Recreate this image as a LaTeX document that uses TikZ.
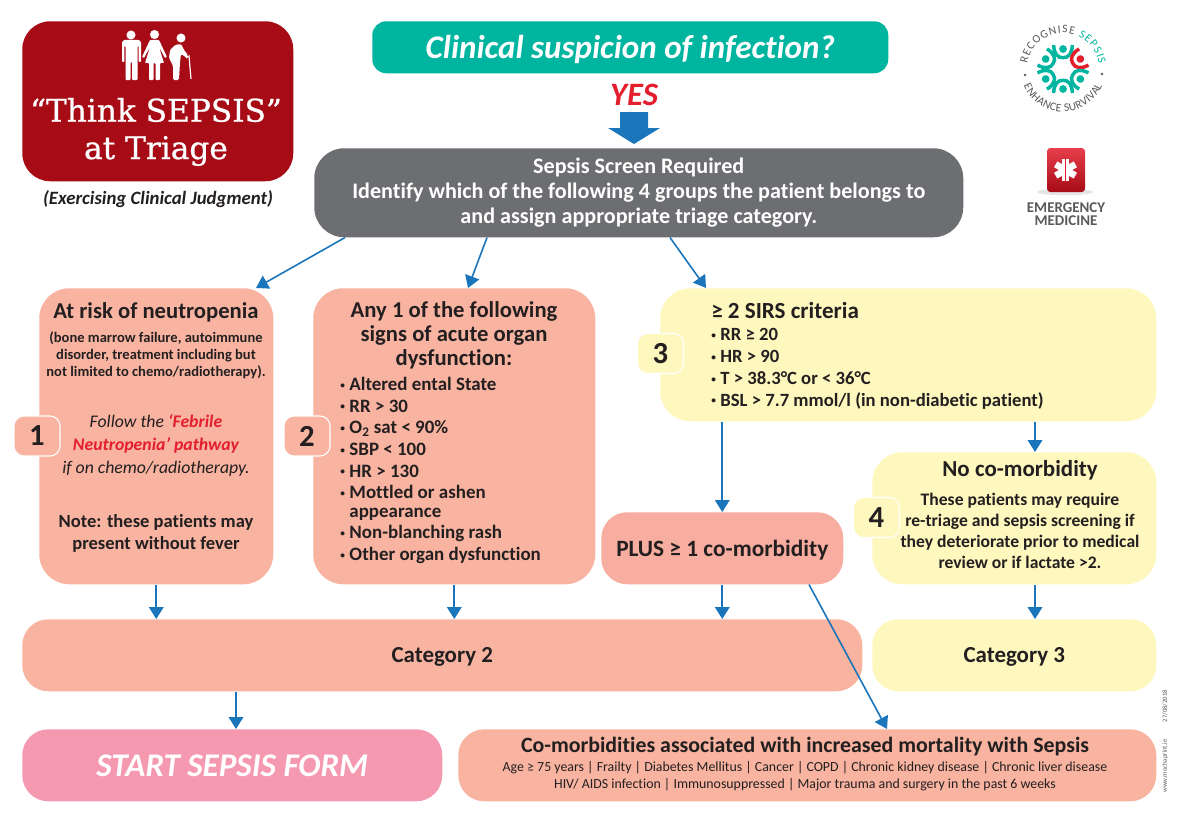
\documentclass[tikz,border=0pt]{standalone}
\usepackage{fontspec}
\setmainfont{Carlito}[Ligatures={NoCommon}]
\newfontfamily\slabfont{DejaVu Serif}[FakeBold=0.8]
\usetikzlibrary{arrows.meta,decorations.text}

\definecolor{inkdark}{HTML}{231F20}
\definecolor{salmon}{HTML}{F8B4A0}
\definecolor{plussalmon}{HTML}{F7AD9F}
\definecolor{paleyellow}{HTML}{FEF7BE}
\definecolor{linkblue}{HTML}{1B75BB}
\definecolor{darkred}{HTML}{A60B16}
\definecolor{alertred}{HTML}{E31E2D}
\definecolor{tealgreen}{HTML}{00B5A0}
\definecolor{screengray}{HTML}{6D6E71}
\definecolor{formpink}{HTML}{F599B0}
\definecolor{logogray}{HTML}{58595B}

\newcommand{\fpx}[2]{\fontsize{#1}{#2}\selectfont}
\newcommand{\blt}{\raisebox{0.12em}{\fontsize{7}{7}\selectfont•}\hspace{0.24em}}

\tikzset{
  x=0.75pt,y=-0.75pt,
  sized/.style 2 args={minimum width=#1*0.75pt,minimum height=#2*0.75pt},
  panel/.style={anchor=north west,inner sep=0pt,rounded corners=#1*0.75pt,text=inkdark,align=center},
  panel/.default=30,
  badge/.style={draw=white,line width=0.8pt,inner sep=0pt,rounded corners=7.5pt,
     minimum width=34.5pt,minimum height=30pt,text=inkdark,font=\bfseries\fpx{23}{26}},
  txt/.style={inner sep=0pt,text=inkdark,align=center},
  listing/.style={inner sep=0pt,anchor=north west,text=inkdark,align=left},
  link/.style={draw=linkblue,line width=1.2pt,-{Triangle[width=11pt,length=9pt]}},
}

\begin{document}
\begin{tikzpicture}
  \useasboundingbox (0,0) rectangle (1180,824);

  % top row
  \node[panel=28,sized={271}{160},fill=darkred] (think) at (22,21) {};
  \node[panel=14,sized={516}{52},fill=tealgreen,text=white,text depth=0pt,font=\bfseries\itshape\fpx{24.8}{30}] (suspicion) at (372,21) {Clinical suspicion of infection?};
  \node[txt,text=alertred,font=\bfseries\itshape\fpx{24.5}{26}] (yes) at (634,95) {YES};
  \fill[linkblue] (620,112) -- (648,112) -- (648,128) -- (660,128) -- (634,144) -- (608,128) -- (620,128) -- cycle;   % big arrow
  \node[panel=30,sized={649}{89},fill=screengray,text=white,font=\bfseries\fpx{16.6}{18.75}] (screen) at (314,148)
     {Sepsis Screen Required\\Identify which of the following 4 groups the patient belongs to\\and assign appropriate triage category.};

  \node[txt,text=white,font=\slabfont\fpx{23.4}{30}] (thinkline) at (156,110) {“Think SEPSIS”};
  \node[txt,text=white,font=\slabfont\fpx{23.4}{30}] (triageline) at (156,151) {at Triage};
  \node[txt,font=\bfseries\itshape\fpx{14.1}{16}] (judgment) at (158,199) {(Exercising Clinical Judgment)};

  % people on the red panel
  \fill[white] (131,35) circle (3.4pt);                  % man
  \fill[white,rounded corners=0.6pt] (124,40) -- (139,40) -- (141,42) -- (141,62) -- (138.7,62) -- (138.7,46) -- (137.5,46)
     -- (137.5,80) -- (132,80) -- (132,62) -- (130.5,62) -- (130.5,80) -- (125.5,80) -- (125.5,46) -- (124.3,46) -- (124.3,62) -- (122,62) -- (122,42) -- cycle;
  \fill[white] (154.5,34.5) circle (3.4pt);              % woman
  \fill[white,rounded corners=0.6pt] (150,40) -- (159,40) -- (167,57) -- (165,58) -- (159,47) -- (164,63) -- (160,63) -- (160,80)
     -- (155.5,80) -- (155.5,63) -- (153.5,63) -- (153.5,80) -- (149,80) -- (149,63) -- (145,63) -- (150,47) -- (144,58) -- (142,57) -- cycle;
  \fill[white] (181,38) circle (3.4pt);                  % old man
  \fill[white,rounded corners=1pt] (175,45) -- (181,44) -- (184,50) -- (188,55) -- (187,58) -- (181,54) -- (180,62) -- (179,80)
     -- (173,80) -- (173,66) -- (169,58) -- (170,50) -- cycle;
  \draw[white,line width=0.9pt] (186,58) -- (189,56) -- (191,79);

  % recognise sepsis logo
  \foreach \ang/\col in {90/tealgreen,30/alertred,-30/tealgreen,-90/tealgreen,210/tealgreen,150/tealgreen}{
    \begin{scope}[shift={(1063,69)},rotate=\ang,x=1pt,y=1pt]
      \fill[\col] (15,0) circle (2.9);
      \draw[\col,line width=2.6pt] (18,7) .. controls (12,7) and (8,4) .. (8.5,0) .. controls (8,-4) and (12,-7) .. (18,-7);
    \end{scope}
  }
  \path[postaction={decorate,decoration={text along path,text align=fit to path,
     text={|\fpx{8.6}{9}\color{logogray}|RECOGNISE |\fpx{8.6}{9}\color{tealgreen}|SEPSIS}}}]
     (1063,69) ++(172:27pt) arc[start angle=172,end angle=8,radius=27pt];
  \path[postaction={decorate,decoration={text along path,text align=fit to path,
     text={|\fpx{8.6}{9}\color{logogray}|ENHANCE SURVIVAL}}}]
     (1063,69) ++(203:32pt) arc[start angle=203,end angle=337,radius=32pt];
  \fill[logogray] (1025,75) circle (1pt);
  \fill[logogray] (1102,74) circle (1pt);

  % emergency medicine logo
  \fill[black!10] (1065,192) ellipse (21pt and 2.5pt);
  \shade[top color=alertred!85!white,bottom color=darkred,rounded corners=2.5pt] (1047,148) rectangle (1085,192);
  \foreach \ang in {90,30,150}
    \draw[white,line width=5pt] (1065.5,170) ++(\ang:8.5pt) -- ++({\ang+180}:17pt);
  \draw[alertred,line width=0.8pt] (1065.5,158) -- (1065.5,182);
  \node[txt,text=logogray,font=\bfseries\fpx{11.2}{9.75}] (emergency) at (1066,214.5) {EMERGENCY\\MEDICINE};

  % the four groups
  \node[panel,sized={234}{296},fill=salmon] (risk) at (39,288) {};
  \node[txt,font=\bfseries\fpx{17}{18}] (riskhead) at (156,312) {At risk of neutropenia};
  \node[txt,font=\bfseries\fpx{10.9}{12.8}] (risktext) at (156,355) {(bone marrow failure, autoimmune\\disorder, treatment including but\\not limited to chemo/radiotherapy).};
  \node[txt,font=\itshape\fpx{13.3}{17.2}] (riskpath) at (156,445) {Follow the \textcolor{alertred}{\bfseries `Febrile}\\\textcolor{alertred}{\bfseries Neutropenia' pathway}\\if on chemo/radiotherapy.};
  \node[txt,font=\bfseries\fpx{13.9}{16.5}] (risknote) at (156,533) {Note: these patients may\\present without fever};
  \node[badge,fill=salmon] (one) at (37,436) {1};

  \node[panel,sized={282}{296},fill=salmon] (organ) at (313,288) {};
  \node[txt,font=\bfseries\fpx{17}{18}] (organhead) at (454,335) {Any 1 of the following\\signs of acute organ\\dysfunction:};
  \node[listing,font=\bfseries\fpx{14.2}{16.25}] (organlist) at (340,377)
     {\blt Altered ental State\\\blt RR > 30\\\blt O\textsubscript{2} sat < 90\%\\\blt SBP < 100\\\blt HR > 130\\\blt Mottled or ashen\\[-2.6pt]\phantom{\blt}appearance\\\blt Non-blanching rash\\\blt Other organ dysfunction};
  \node[badge,fill=salmon] (two) at (307,436) {2};

  \node[panel,sized={496}{133},fill=paleyellow] (sirs) at (660,288) {};
  \node[listing,font=\bfseries\fpx{17.3}{18}] (sirshead) at (711,302) {≥ 2 SIRS criteria};
  \node[listing,font=\bfseries\fpx{14}{16.4}] (sirslist) at (711,328)
     {\blt RR ≥ 20\\\blt HR > 90\\\blt T > 38.3°C or < 36°C\\\blt BSL > 7.7 mmol/l (in non-diabetic patient)};
  \node[badge,fill=paleyellow] (three) at (660.5,353.5) {3};

  \node[panel,sized={284}{132},fill=paleyellow] (nomorbid) at (872,452) {};
  \node[txt,font=\bfseries\fpx{17.2}{18}] (nomorbidhead) at (1020,470) {No co-morbidity};
  \node[txt,font=\bfseries\fpx{13.2}{15.6}] (nomorbidtext) at (1020,531) {These patients may require\\re-triage and sepsis screening if\\they deteriorate prior to medical\\review or if lactate >2.};
  \node[badge,fill=paleyellow] (four) at (876.5,517.5) {4};

  \node[panel=26,sized={242}{72},fill=plussalmon,text depth=0pt,font=\bfseries\fpx{17.5}{18}] (plus) at (601,512) {PLUS ≥ 1 co-morbidity};

  % bottom rows
  \node[panel=26,sized={840}{72},fill=salmon,text depth=0pt,font=\bfseries\fpx{17.2}{18}] (cattwo) at (22,619) {Category 2};
  \node[panel=26,sized={284}{72},fill=paleyellow,text depth=0pt,font=\bfseries\fpx{17.2}{18}] (catthree) at (872,619) {Category 3};
  \node[panel=26,sized={420}{72},fill=formpink,text=white,font=\bfseries\itshape\fpx{24.8}{28}] (form) at (22,729) {START SEPSIS FORM};
  \node[panel=26,sized={698}{72},fill=salmon] (comorbid) at (458,729) {};
  \node[txt,font=\bfseries\fpx{16.4}{18}] (comorbidhead) at (805,747) {Co-morbidities associated with increased mortality with Sepsis};
  \node[txt,font=\fpx{10.4}{12.8}] (comorbidtext) at (805,776) {Age ≥ 75 years | Frailty | Diabetes Mellitus | Cancer | COPD | Chronic kidney disease | Chronic liver disease\\HIV/ AIDS infection | Immunosuppressed | Major trauma and surgery in the past 6 weeks};

  % print marks
  \node[txt,text=logogray,rotate=90,font=\fpx{5}{6}] (printer) at (1165,766) {www.mochaprint.ie};
  \node[txt,text=logogray,rotate=90,font=\fpx{5}{6}] (printdate) at (1165,706) {27/08/2018};

  % connectors
  \foreach \nam/\xval in {leftout/345,leftin/256,midout/487,midin/468,rightout/670,rightin/706,armfour/1035,armform/236,diagout/809,diagin/887}
    \coordinate (\nam) at (\xval,0);
  \draw[link] (screen.south -| leftout) -- (risk.north -| leftin);
  \draw[link] (screen.south -| midout) -- (organ.north -| midin);
  \draw[link] (screen.south -| rightout) -- (sirs.north -| rightin);
  \draw[link] (sirs.south -| plus.south) -- (plus.north);
  \draw[link] (sirs.south -| armfour) -- (nomorbid.north -| armfour);
  \draw[link] (risk.south) -- (cattwo.north -| risk.south);
  \draw[link] (organ.south) -- (cattwo.north -| organ.south);
  \draw[link] (plus.south) -- (cattwo.north -| plus.south);
  \draw[link] (nomorbid.south -| armfour) -- (catthree.north -| armfour);
  \draw[link] (cattwo.south -| armform) -- (form.north -| armform);
  \draw[link] (plus.south -| diagout) -- (comorbid.north -| diagin);
\end{tikzpicture}
\end{document}
